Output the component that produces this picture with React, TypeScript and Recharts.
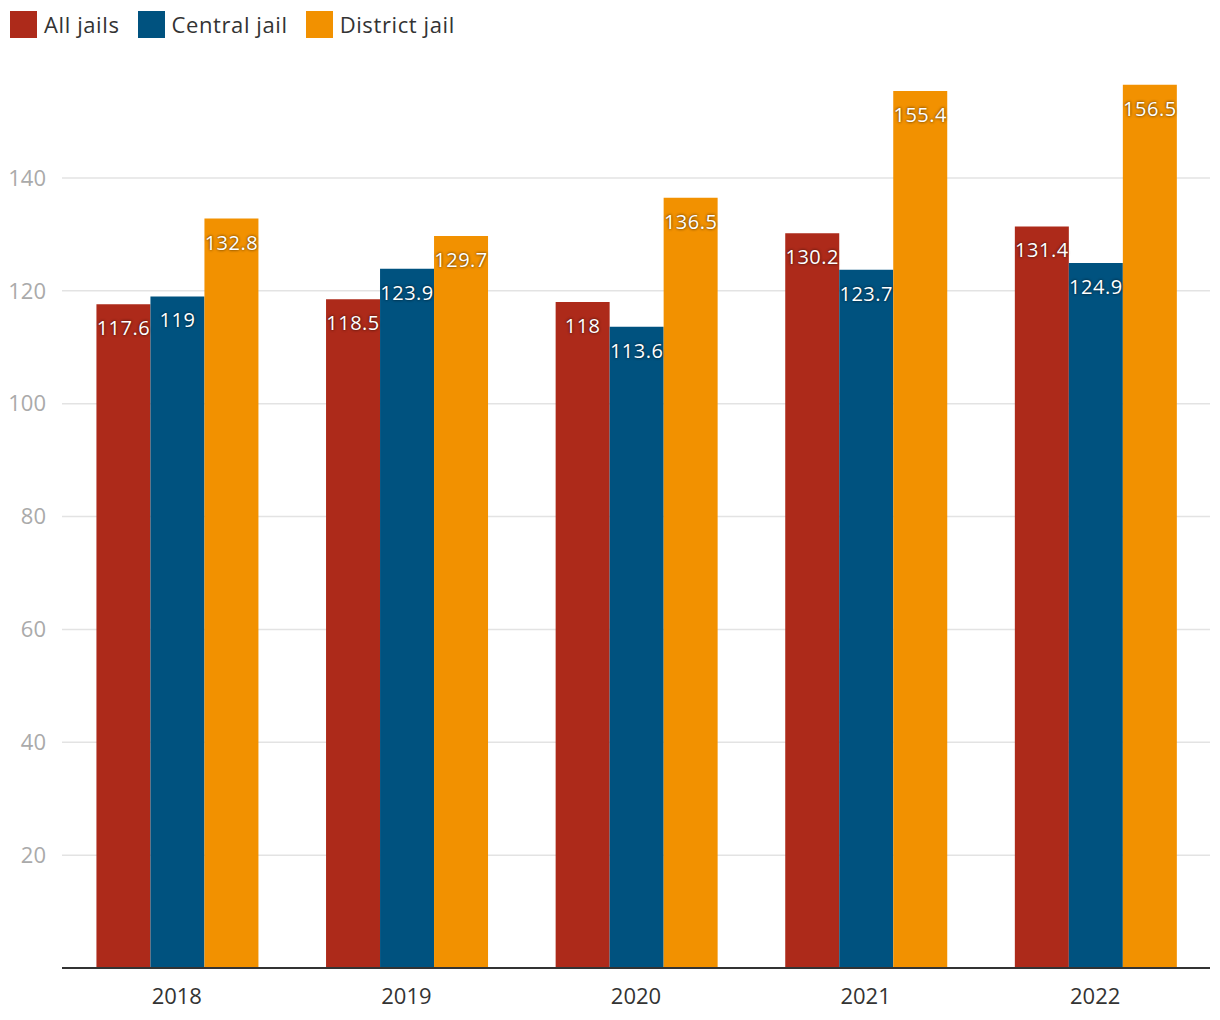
import { BarChart, Bar, XAxis, YAxis, CartesianGrid, LabelList } from 'recharts'

const years = ['2018', '2019', '2020', '2021', '2022']
const allJails = [117.6, 118.5, 118, 130.2, 131.4]
const centralJail = [119, 123.9, 113.6, 123.7, 124.9]
const districtJail = [132.8, 129.7, 136.5, 155.4, 156.5]
const yTicks = [20, 40, 60, 80, 100, 120, 140]
const yMax = 160

const data = years.map((year, i) => ({
  year,
  all: allJails[i],
  central: centralJail[i],
  district: districtJail[i],
}))

const series = [
  { key: 'all', label: 'All jails', color: '#ad2a1a' },
  { key: 'central', label: 'Central jail', color: '#00527f' },
  { key: 'district', label: 'District jail', color: '#f29100' },
]

const font = '"Open Sans", "Noto Sans", sans-serif'

function BarLabel(props: any) {
  const { x, y, width, value } = props
  return (
    <text
      x={x + width / 2}
      y={y + 31}
      textAnchor="middle"
      fill="#fff"
      fontSize={20}
      fontFamily={font}
      letterSpacing={0.5}
      style={{ textShadow: '0 0 3px rgba(0,0,0,0.8)' }}
    >
      {value}
    </text>
  )
}

// grid lines only at the y ticks, none at the top of the domain
const gridLines = ({ offset }: any) =>
  offset ? yTicks.map(t => offset.top + offset.height * (1 - t / yMax)) : []

export default function App() {
  return (
    <div style={{ position: 'absolute', left: 0, top: 0, width: 1220, height: 1020, background: '#fff', fontFamily: font }}>
      <div style={{ position: 'absolute', left: 10, top: 11, display: 'flex', alignItems: 'center', gap: 18 }}>
        {series.map(s => (
          <div key={s.key} style={{ display: 'flex', alignItems: 'center', gap: 7 }}>
            <span style={{ width: 27, height: 27, backgroundColor: s.color, display: 'inline-block' }} />
            <span style={{ fontSize: 22, color: '#333', letterSpacing: 0.6, lineHeight: '27px' }}>{s.label}</span>
          </div>
        ))}
      </div>
      <BarChart
        width={1220}
        height={1020}
        data={data}
        margin={{ top: 65, right: 10, left: 0, bottom: 12 }}
        barCategoryGap="15%"
        barGap={0}
      >
        <CartesianGrid vertical={false} stroke="#e3e3e3" strokeWidth={1.5} horizontalCoordinatesGenerator={gridLines} />
        <XAxis
          dataKey="year"
          height={40}
          tickLine={false}
          axisLine={{ stroke: '#333', strokeWidth: 2 }}
          tick={{ fontSize: 22, fill: '#333', fontFamily: font }}
          tickMargin={14}
        />
        <YAxis
          width={62}
          domain={[0, yMax]}
          ticks={yTicks}
          axisLine={false}
          tickLine={false}
          tickMargin={10}
          tick={{ fontSize: 22, fill: '#aaa', fontFamily: font }}
        />
        {series.map(s => (
          <Bar key={s.key} dataKey={s.key} name={s.label} fill={s.color} isAnimationActive={false}>
            <LabelList dataKey={s.key} content={BarLabel} />
          </Bar>
        ))}
      </BarChart>
    </div>
  )
}
